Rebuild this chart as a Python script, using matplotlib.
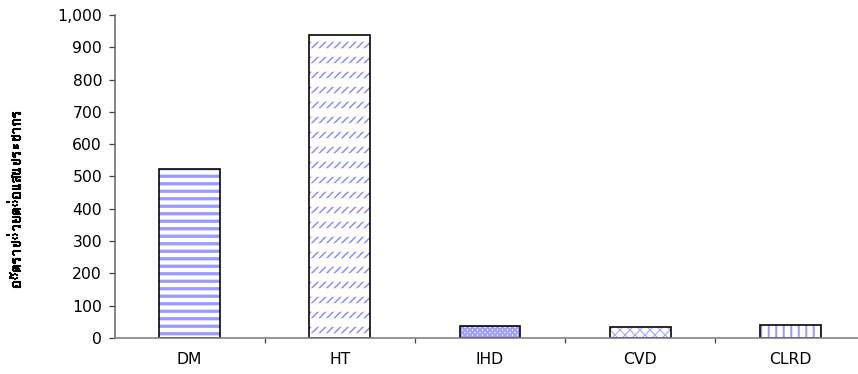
import matplotlib
matplotlib.use("Agg")
import matplotlib.pyplot as plt
import matplotlib.patheffects as pe
from matplotlib import font_manager
from matplotlib.ft2font import FT2Font
from matplotlib.ticker import FuncFormatter, FixedLocator

# Disease categories and rates per 100,000 population
categories = ["DM", "HT", "IHD", "CVD", "CLRD"]
rates = [522, 937, 38, 33, 41]
y_ticks = [0, 100, 200, 300, 400, 500, 600, 700, 800, 900, 1000]
y_label = "อัตราป่วยต่อแสนประชากร"

# fill styles per bar: (hatch, hatch colour, hatch linewidth)
fills = [
    ("--", "#9a9aff", 2.6),
    ("////", "#8c8cff", 1.2),
    ("xxxxxx", "#a0a0ff", 1.7),
    ("xxx", "#a8a8ff", 0.9),
    ("||", "#9a9aff", 1.6),
]

DPI = 90
W, H = 858, 374


def find_thai_font():
    for path in font_manager.findSystemFonts():
        try:
            f = FT2Font(path)
            if 0x0E2D in f.get_charmap():
                return path
        except Exception:
            continue
    return None


def hatched_bar(ax, xpos, value, width, hatch, colour, lw, z):
    plt.rcParams["hatch.linewidth"] = lw
    bars = ax.bar(xpos, value, width=width, color="none", edgecolor=colour,
                  linewidth=0, hatch=hatch, zorder=z)
    for p in bars:
        if hasattr(p, "set_hatch_linewidth"):
            p.set_hatch_linewidth(lw)
    return bars


plt.rcParams["font.family"] = ["DejaVu Sans"]

fig = plt.figure(figsize=(W / DPI, H / DPI), dpi=DPI)
ax_left, ax_right = 114.5, 865.5
ax_bottom, ax_top = 337.8, 15.0
ax = fig.add_axes([ax_left / W, (H - ax_bottom) / H,
                   (ax_right - ax_left) / W, (ax_bottom - ax_top) / H])

x = list(range(len(categories)))
width = 0.405
ax.bar(x, rates, width=width, color="white", linewidth=0, zorder=1.5)
for i, (v, (h, c, lw)) in enumerate(zip(rates, fills)):
    hatched_bar(ax, i, v, width, h, c, lw, 2)
    if i == 1:
        # break the diagonal strokes into short dashes
        hatched_bar(ax, i, v, width, "-", "white", 6.8, 2.5)
ax.bar(x, rates, width=width, color="none", edgecolor="black",
       linewidth=1.3, zorder=3)

ax.set_xlim(-0.5, len(categories) - 0.5)
ax.set_ylim(0, 1000)

ax.set_yticks(y_ticks)
ax.yaxis.set_major_formatter(FuncFormatter(lambda v, _: f"{int(v):,}"))
ax.tick_params(axis="y", direction="out", length=5, width=1.0,
               color="#404040", labelsize=12.5, pad=5)

ax.set_xticks(x)
ax.set_xticklabels(categories)
ax.xaxis.set_minor_locator(FixedLocator([i + 0.5 for i in range(len(categories) - 1)]))
ax.tick_params(axis="x", which="major", length=0, labelsize=12.5, pad=11)
ax.tick_params(axis="x", which="minor", direction="out", length=4,
               width=1.0, color="#404040")

for side in ("top", "right"):
    ax.spines[side].set_visible(False)
ax.spines["left"].set_color("#606060")
ax.spines["bottom"].set_color("#808080")
ax.spines["left"].set_linewidth(1.2)
ax.spines["bottom"].set_linewidth(1.3)
ax.spines["left"].set_zorder(4)
ax.spines["bottom"].set_zorder(4)

thai = find_thai_font()
stroke = [pe.withStroke(linewidth=0.9, foreground="black")]
if thai:
    fp = font_manager.FontProperties(fname=thai, size=13, weight="bold")
    fig.text(15 / W, 1 - 199 / H, y_label, rotation=90, ha="center",
             va="center", fontproperties=fp, path_effects=stroke)
else:
    fig.text(15 / W, 1 - 199 / H, y_label, rotation=90, ha="center",
             va="center", fontsize=13, fontweight="bold", path_effects=stroke)

fig.savefig("out.png", dpi=DPI)
